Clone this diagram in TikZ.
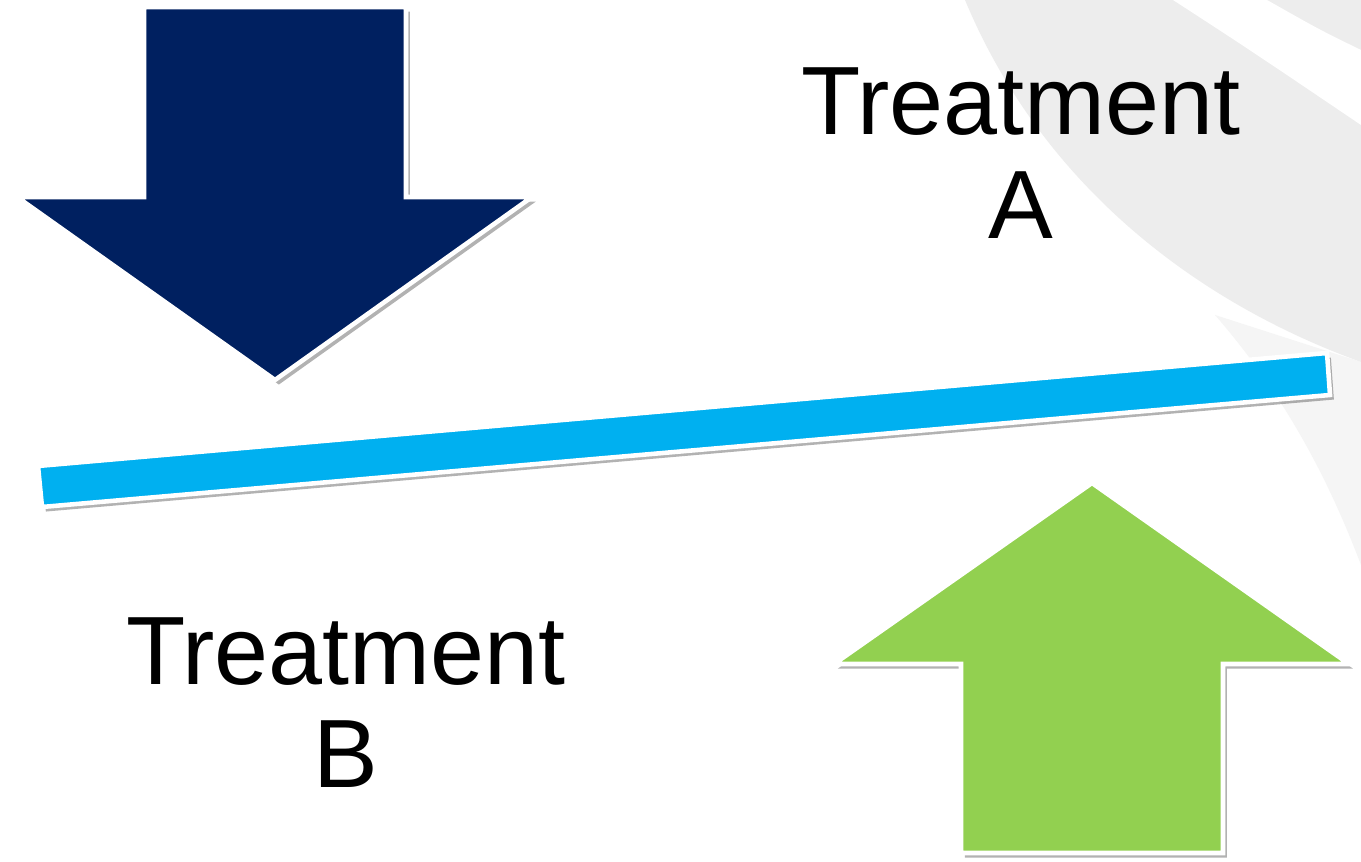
\documentclass[tikz,border=0pt]{standalone}
\usepackage{fontspec}
\setmainfont{Liberation Sans}
\usetikzlibrary{shadows}
\definecolor{navy}{HTML}{002060}
\definecolor{skyblue}{HTML}{00B0F0}
\definecolor{leafgreen}{HTML}{92D050}
\begin{document}
\begin{tikzpicture}[x=0.01cm,y=-0.01cm,
  block/.style={draw=white,line width=1.3pt,line join=miter,
    drop shadow={shadow xshift=1.1pt,shadow yshift=-1.3pt,opacity=0.3,fill=black}},
  lbl/.style={inner sep=0pt,anchor=base,font=\fontsize{27.6}{29.3}\selectfont}]
  \useasboundingbox (0,0) rectangle (1361,862);
  \fill[white] (0,0) rectangle (1361,862);

  % Background swoosh
  \fill[black!4] (1215,315) .. controls (1280,390) and (1325,470) .. (1361,565) -- (1361,362) -- cycle;
  \fill[black!7] (965,0) .. controls (1040,180) and (1190,300) .. (1361,362) -- (1361,0) -- cycle;
  \fill[white] (1173,0) .. controls (1250,50) .. (1361,125) -- (1361,50) .. controls (1320,30) .. (1267,0) -- cycle;

  % Down arrow
  \filldraw[block,fill=navy] (144,7) -- (406,7) -- (406,197) -- (532,197) -- (275,380)
    -- (17,197) -- (144,197) -- cycle;

  % Beam
  \filldraw[block,fill=skyblue] (38,466) -- (1327,353) -- (1330,395) -- (42,507) -- cycle;

  % Up arrow
  \filldraw[block,fill=leafgreen] (1092,483) -- (1349,664) -- (1223,664) -- (1223,853)
    -- (961,853) -- (961,664) -- (834,664) -- cycle;

  % Labels
  \node[lbl] (trtA) at (1021,135) {Treatment};
  \node[lbl] (labA) at ([yshift=-1.03cm]trtA.base) {A};
  \node[lbl] (trtB) at (346,685) {Treatment};
  \node[lbl] (labB) at ([yshift=-1.02cm]trtB.base) {B};
\end{tikzpicture}
\end{document}
